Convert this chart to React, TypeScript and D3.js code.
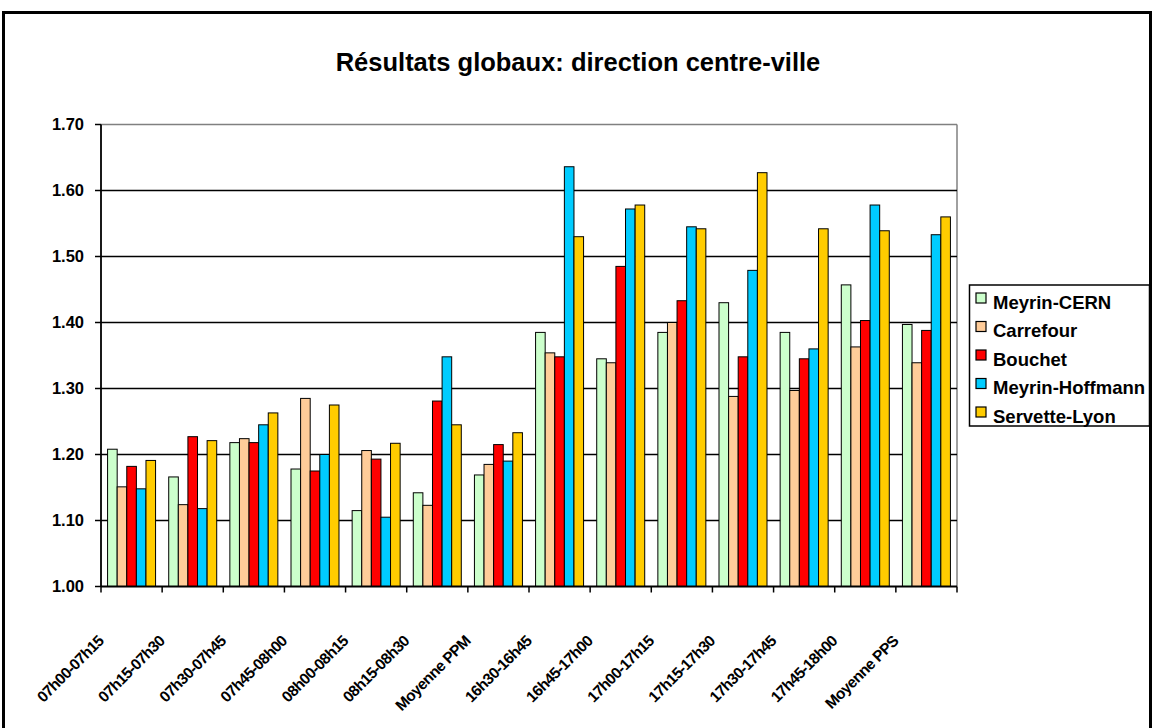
import React from "react";
import * as d3 from "d3";

const categories = [
  "07h00-07h15", "07h15-07h30", "07h30-07h45", "07h45-08h00", "08h00-08h15",
  "08h15-08h30", "Moyenne PPM", "16h30-16h45", "16h45-17h00", "17h00-17h15",
  "17h15-17h30", "17h30-17h45", "17h45-18h00", "Moyenne PPS",
];
const seriesNames = ["Meyrin-CERN", "Carrefour", "Bouchet", "Meyrin-Hoffmann", "Servette-Lyon"];
const seriesColors = ["#CCFFCC", "#FFCC99", "#FF0000", "#00CCFF", "#FFCC00"];

const meyrinCern = [1.208, 1.166, 1.218, 1.178, 1.115, 1.142, 1.169, 1.385, 1.345, 1.385, 1.430, 1.385, 1.457, 1.397];
const carrefour = [1.151, 1.124, 1.224, 1.285, 1.206, 1.123, 1.185, 1.354, 1.339, 1.400, 1.288, 1.297, 1.363, 1.339];
const bouchet = [1.182, 1.227, 1.218, 1.175, 1.193, 1.281, 1.215, 1.348, 1.485, 1.433, 1.348, 1.345, 1.403, 1.388];
const meyrinHoffmann = [1.148, 1.118, 1.245, 1.200, 1.105, 1.348, 1.190, 1.636, 1.572, 1.545, 1.479, 1.360, 1.578, 1.533];
const servetteLyon = [1.191, 1.221, 1.263, 1.275, 1.217, 1.245, 1.233, 1.530, 1.578, 1.542, 1.627, 1.542, 1.539, 1.560];

const yTicks = [1.0, 1.1, 1.2, 1.3, 1.4, 1.5, 1.6, 1.7];
const title = "Résultats globaux: direction centre-ville";

const seriesValues = [meyrinCern, carrefour, bouchet, meyrinHoffmann, servetteLyon];

const W = 1153;
const H = 728;
const FONT = "'Liberation Sans', Arial, Helvetica, sans-serif";

export default function App() {
  const left = 101;
  const right = 957;
  const top = 124.5;
  const bottom = 586.5;

  const x = d3.scaleBand<string>().domain(categories).range([left, right]).paddingInner(0.215).paddingOuter(0.1075);
  const xs = d3.scaleBand<string>().domain(seriesNames).range([0, x.bandwidth()]).padding(0);
  const y = d3.scaleLinear().domain([1.0, 1.7]).range([bottom, top]);
  const step = x.step();
  const fmt = d3.format(".2f");

  const boundaries = d3.range(categories.length + 1).map((i) => left + i * step);

  return (
    <svg width={W} height={H} style={{ position: "absolute", left: 0, top: 0, display: "block", background: "#fff" }}>
      <rect x={0} y={0} width={W} height={H} fill="#fff" />
      {/* outer frame */}
      <rect x={3.5} y={12.5} width={1147} height={740} fill="none" stroke="#000" strokeWidth={3} />

      <text x={578} y={71} textAnchor="middle" fontFamily={FONT} fontWeight="bold" fontSize={25.5} fill="#000">
        {title}
      </text>

      {/* plot area border */}
      <line x1={left} x2={right} y1={top} y2={top} stroke="#808080" strokeWidth={1.5} />
      <line x1={right} x2={right} y1={top} y2={bottom} stroke="#808080" strokeWidth={1.5} />

      {/* gridlines */}
      {yTicks.slice(1, -1).map((t) => (
        <line key={"g" + t} x1={left} x2={right} y1={y(t)} y2={y(t)} stroke="#000" strokeWidth={1.3} />
      ))}

      {/* bars */}
      {seriesValues.map((vals, si) => (
        <g key={seriesNames[si]}>
          {vals.map((v, ci) => (
            <rect
              key={ci}
              x={(x(categories[ci]) as number) + (xs(seriesNames[si]) as number)}
              y={y(v)}
              width={xs.bandwidth()}
              height={y(1.0) - y(v)}
              fill={seriesColors[si]}
              stroke="#000"
              strokeWidth={1}
            />
          ))}
        </g>
      ))}

      {/* y axis */}
      <line x1={left} x2={left} y1={top} y2={bottom} stroke="#000" strokeWidth={1.8} />
      {yTicks.map((t) => (
        <g key={"yt" + t}>
          <line x1={left - 6} x2={left} y1={y(t)} y2={y(t)} stroke="#000" strokeWidth={1.5} />
          <text x={84} y={y(t)} dy="0.36em" textAnchor="end" fontFamily={FONT} fontWeight="bold" fontSize={16.5} fill="#000">
            {fmt(t)}
          </text>
        </g>
      ))}

      {/* x axis */}
      <line x1={left} x2={right} y1={bottom} y2={bottom} stroke="#000" strokeWidth={1.8} />
      {boundaries.map((bx, i) => (
        <line key={"xt" + i} x1={bx} x2={bx} y1={bottom} y2={bottom + 6} stroke="#000" strokeWidth={1.5} />
      ))}
      {categories.map((c) => {
        const cx = (x(c) as number) + x.bandwidth() / 2 - 27;
        const cy = 642;
        return (
          <text
            key={"xl" + c}
            transform={`translate(${cx},${cy}) rotate(-45)`}
            textAnchor="end"
            fontFamily={FONT}
            fontWeight="bold"
            fontSize={15.5}
            letterSpacing={-0.6}
            fill="#000"
          >
            {c}
          </text>
        );
      })}

      {/* legend */}
      <rect x={969.5} y={285} width={180} height={141} fill="#fff" stroke="#000" strokeWidth={1.5} />
      {seriesNames.map((s, i) => {
        const ry = 302 + i * 28.5;
        return (
          <g key={"lg" + s}>
            <rect x={976} y={ry - 9} width={10} height={10} fill={seriesColors[i]} stroke="#000" strokeWidth={1.2} />
            <text x={993} y={ry} dy="0.36em" fontFamily={FONT} fontWeight="bold" fontSize={18.5} fill="#000">
              {s}
            </text>
          </g>
        );
      })}
    </svg>
  );
}
